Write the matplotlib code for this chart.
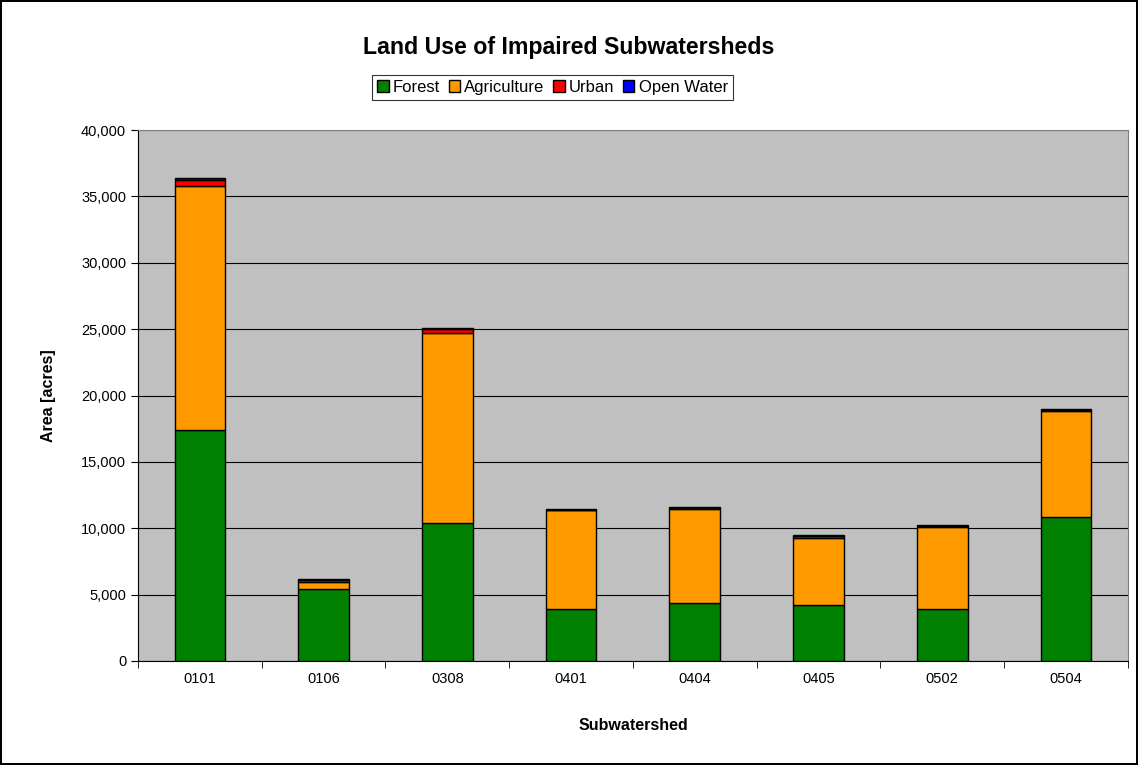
import numpy as np
import matplotlib
matplotlib.use('Agg')
import matplotlib.pyplot as plt
from matplotlib.ticker import FuncFormatter, FixedLocator

plt.rcParams['font.family'] = ['Liberation Sans', 'DejaVu Sans']

subwatersheds = ['0101', '0106', '0308', '0401', '0404', '0405', '0502', '0504']
forest = [17400, 5400, 10400, 3900, 4400, 4200, 3950, 10850]
agriculture = [18350, 550, 14300, 7450, 7050, 5050, 6150, 7950]
urban = [450, 150, 300, 50, 100, 150, 100, 100]
open_water = [150, 70, 60, 20, 50, 100, 50, 100]

series = [('Forest', forest, '#008000'),
          ('Agriculture', agriculture, '#FF9900'),
          ('Urban', urban, '#FF0000'),
          ('Open Water', open_water, '#0000FF')]

fig = plt.figure(figsize=(11.38, 7.65), dpi=100)
fig.patch.set_facecolor('white')
fig.patch.set_edgecolor('black')
fig.patch.set_linewidth(1.5)

ax = fig.add_axes([0.1213, 0.136, 0.8697, 0.694])
ax.set_facecolor('#C0C0C0')

x = np.arange(len(subwatersheds))
bottom = np.zeros(len(subwatersheds))
for name, vals, col in series:
    ax.bar(x, vals, width=0.41, bottom=bottom, color=col, edgecolor='black',
           linewidth=1, label=name, zorder=3)
    bottom += np.array(vals)

ax.set_xlim(-0.5, len(subwatersheds) - 0.5)
ax.set_ylim(0, 40000)
ax.set_yticks(np.arange(0, 40001, 5000))
ax.yaxis.set_major_formatter(FuncFormatter(lambda v, p: f'{int(v):,}'))
ax.yaxis.grid(True, color='black', linewidth=0.8, zorder=0)
ax.set_axisbelow(True)

ax.set_xticks(x)
ax.set_xticklabels(subwatersheds)
ax.tick_params(axis='x', which='major', length=0, pad=8, labelsize=10.5)
ax.xaxis.set_minor_locator(FixedLocator(np.arange(-0.5, len(subwatersheds), 1)))
ax.tick_params(axis='x', which='minor', length=5, direction='out')
ax.tick_params(axis='y', length=5, direction='out', labelsize=10.5)

for s in ['top', 'right']:
    ax.spines[s].set_color('#808080')
ax.spines['left'].set_color('black')
ax.spines['bottom'].set_color('black')

ax.set_ylabel('Area [acres]', fontsize=11.5, fontweight='bold', labelpad=18)
ax.set_xlabel('Subwatershed', fontsize=11.5, fontweight='bold', labelpad=23)

fig.text(0.5, 0.938, 'Land Use of Impaired Subwatersheds', ha='center', va='center',
         fontsize=16.7, fontweight='bold')

leg = fig.legend(loc='center', bbox_to_anchor=(0.4855, 0.886), ncol=4, fontsize=12,
                 frameon=True, fancybox=False, edgecolor='black', handlelength=0.7,
                 handleheight=0.7, handletextpad=0.25, columnspacing=0.5,
                 borderpad=0.3, borderaxespad=0)
leg.get_frame().set_linewidth(0.8)

fig.savefig('out.png', dpi=100, facecolor='white', edgecolor='black')
